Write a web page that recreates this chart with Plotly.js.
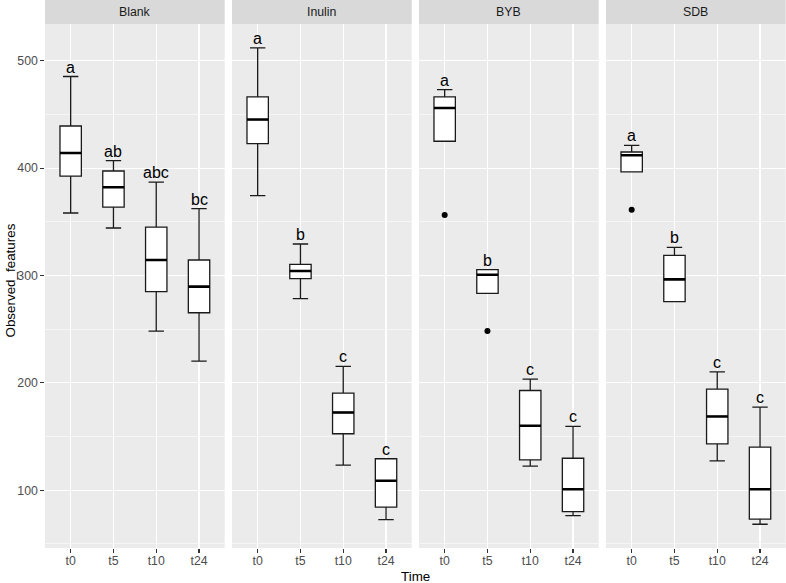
<!DOCTYPE html>
<html>
<head>
<meta charset="utf-8">
<script src="https://cdn.plot.ly/plotly-3.0.1.min.js"></script>
<style>html,body{margin:0;padding:0;background:#fff;}#chart{width:786px;height:583px;}</style>
</head>
<body>
<div id="chart"></div>
<script>
// ---- data ----
const groups = ['Blank', 'Inulin', 'BYB', 'SDB'];
const times = ['t0', 't5', 't10', 't24'];

const blankLower  = [358.2, 344.2, 248.2, 220.2];
const blankQ1     = [392.6, 363.7, 284.9, 265.3];
const blankMedian = [414.1, 382.1, 314.4, 289.6];
const blankQ3     = [439.2, 397.3, 345.1, 314.4];
const blankUpper  = [485.3, 407.0, 387.0, 362.2];

const inulinLower  = [374.4, 278.4, 123.3, 72.7];
const inulinQ1     = [422.8, 297.0, 152.6, 84.2];
const inulinMedian = [445.2, 304.1, 172.4, 108.8];
const inulinQ3     = [466.3, 310.3, 190.4, 129.3];
const inulinUpper  = [512.0, 329.3, 215.3, 129.3];

const bybLower  = [425.0, 283.3, 122.4, 76.4];
const bybQ1     = [425.0, 283.3, 128.3, 80.1];
const bybMedian = [456.0, 300.7, 160.0, 100.9];
const bybQ3     = [466.3, 305.4, 192.9, 129.8];
const bybUpper  = [473.1, 305.4, 203.4, 159.4];

const sdbLower  = [396.4, 275.6, 127.4, 68.3];
const sdbQ1     = [396.4, 275.6, 143.2, 73.0];
const sdbMedian = [411.9, 296.4, 168.7, 100.9];
const sdbQ3     = [415.0, 318.7, 194.1, 140.1];
const sdbUpper  = [421.2, 326.2, 210.3, 177.4];

const blankLetters  = ['a', 'ab', 'abc', 'bc'];
const inulinLetters = ['a', 'b', 'c', 'c'];
const bybLetters    = ['a', 'b', 'c', 'c'];
const sdbLetters    = ['a', 'b', 'c', 'c'];

// outliers: group, time, value
const outlierGroup = ['BYB', 'BYB', 'SDB'];
const outlierTime  = ['t0', 't5', 't0'];
const outlierValue = [356.3, 248.2, 361.3];

const yTicks = [100, 200, 300, 400, 500];

// ---- build ----
const stats = {
  Blank:  [blankLower, blankQ1, blankMedian, blankQ3, blankUpper, blankLetters],
  Inulin: [inulinLower, inulinQ1, inulinMedian, inulinQ3, inulinUpper, inulinLetters],
  BYB:    [bybLower, bybQ1, bybMedian, bybQ3, bybUpper, bybLetters],
  SDB:    [sdbLower, sdbQ1, sdbMedian, sdbQ3, sdbUpper, sdbLetters]
};

const FONT = '"Liberation Sans", Arial, Helvetica, sans-serif';
const traces = [];
const annotations = [];
const shapes = [];
const layout = {
  width: 786, height: 583,
  margin: {l: 45, r: 0, t: 24, b: 35},
  paper_bgcolor: '#FFFFFF',
  plot_bgcolor: '#EBEBEB',
  showlegend: false,
  font: {family: FONT, color: '#000000'},
  annotations: annotations,
  shapes: shapes
};

const totalW = 741;
const panelW = 179.7;
const gapW = 7.3;
const plotH = 583 - 24 - 35;
const stripH = 24.3;

groups.forEach((g, i) => {
  const s = stats[g];
  const xa = i === 0 ? 'x' : 'x' + (i + 1);
  const ya = i === 0 ? 'y' : 'y' + (i + 1);
  const xKey = i === 0 ? 'xaxis' : 'xaxis' + (i + 1);
  const yKey = i === 0 ? 'yaxis' : 'yaxis' + (i + 1);
  const d0 = i * (panelW + gapW) / totalW;
  const d1 = Math.min(1, (i * (panelW + gapW) + panelW) / totalW);

  layout[xKey] = {
    domain: [d0, d1],
    anchor: ya,
    type: 'category',
    categoryorder: 'array',
    categoryarray: times,
    range: [-0.6, 3.6],
    showgrid: true, gridcolor: '#FFFFFF', gridwidth: 1.07,
    zeroline: false, showline: false,
    ticks: 'outside', ticklen: 3.7, tickwidth: 1.07, tickcolor: '#333333',
    ticklabelstandoff: -2,
    tickfont: {family: FONT, size: 12.3, color: '#4D4D4D'},
    fixedrange: true
  };
  layout[yKey] = {
    domain: [0, 1],
    anchor: xa,
    range: [46.2, 534.2],
    tickvals: yTicks,
    ticktext: yTicks.map(String),
    showgrid: true, gridcolor: '#FFFFFF', gridwidth: 1.07,
    minor: {tick0: 50, dtick: 100, showgrid: true, gridcolor: '#FFFFFF', gridwidth: 0.53, ticks: ''},
    zeroline: false, showline: false,
    ticks: i === 0 ? 'outside' : '',
    ticklen: 3.7, tickwidth: 1.07, tickcolor: '#333333',
    showticklabels: i === 0,
    tickfont: {family: FONT, size: 12.3, color: '#4D4D4D'},
    fixedrange: true
  };
  if (i > 0) layout[yKey].matches = 'y';

  // main boxes
  traces.push({
    type: 'box', xaxis: xa, yaxis: ya,
    x: times,
    lowerfence: s[0], q1: s[1], median: s[2], q3: s[3], upperfence: s[4],
    width: 0.5, whiskerwidth: 0.72,
    fillcolor: '#FFFFFF',
    line: {color: '#1A1A1A', width: 1.3},
    boxpoints: false, hoverinfo: 'skip'
  });
  // thicker median line (degenerate box at the median)
  traces.push({
    type: 'box', xaxis: xa, yaxis: ya,
    x: times,
    lowerfence: s[2], q1: s[2], median: s[2], q3: s[2], upperfence: s[2],
    width: 0.5, whiskerwidth: 0,
    fillcolor: 'rgba(0,0,0,0)',
    line: {color: '#000000', width: 2.6},
    boxpoints: false, hoverinfo: 'skip'
  });

  // outliers for this group
  const ox = [], oy = [];
  outlierGroup.forEach((og, k) => { if (og === g) { ox.push(outlierTime[k]); oy.push(outlierValue[k]); } });
  if (ox.length) {
    traces.push({
      type: 'scatter', mode: 'markers', xaxis: xa, yaxis: ya,
      x: ox, y: oy,
      marker: {color: '#000000', size: 6},
      hoverinfo: 'skip'
    });
  }

  // significance letters
  times.forEach((t, j) => {
    annotations.push({
      xref: xa, yref: ya, x: t, y: s[4][j],
      text: s[5][j], showarrow: false,
      xanchor: 'center', yanchor: 'bottom', yshift: -1,
      font: {family: FONT, size: 16, color: '#000000'}
    });
  });

  // strip
  shapes.push({
    type: 'rect', xref: xa + ' domain', yref: 'paper',
    x0: 0, x1: 1, y0: 1, y1: 1 + stripH / plotH,
    fillcolor: '#D9D9D9', line: {width: 0}, layer: 'below'
  });
  annotations.push({
    xref: xa + ' domain', yref: 'paper', x: 0.5, y: 1 + stripH / 2 / plotH,
    text: g, showarrow: false, xanchor: 'center', yanchor: 'middle',
    font: {family: FONT, size: 12.3, color: '#1A1A1A'}
  });
});

// axis titles
annotations.push({
  xref: 'paper', yref: 'paper', x: (9.5 - 45) / totalW, y: (548 - 281) / plotH,
  text: 'Observed_features', showarrow: false, textangle: -90,
  xanchor: 'center', yanchor: 'middle',
  font: {family: FONT, size: 13.4, color: '#000000'}
});
annotations.push({
  xref: 'paper', yref: 'paper', x: 0.5, y: 0, yshift: -28,
  text: 'Time', showarrow: false, xanchor: 'center', yanchor: 'middle',
  font: {family: FONT, size: 13.4, color: '#000000'}
});

Plotly.newPlot('chart', traces, layout, {staticPlot: true, displayModeBar: false});
</script>
</body>
</html>
